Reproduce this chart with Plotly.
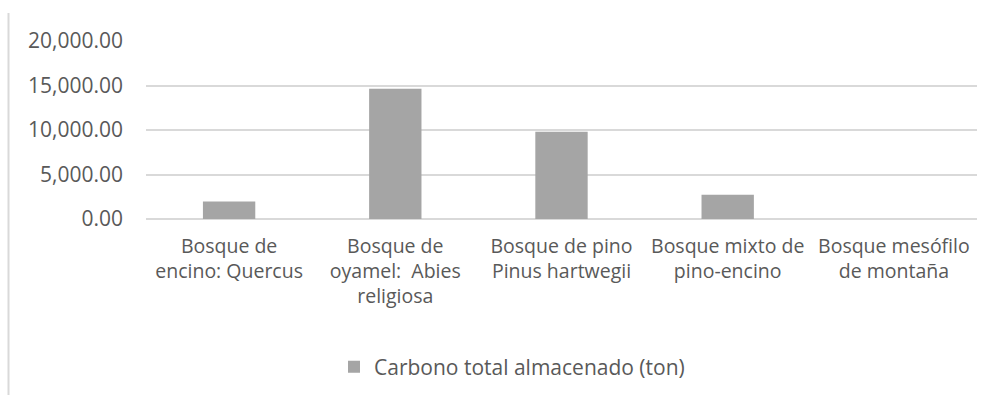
import plotly.graph_objects as go

# Forest types and total stored carbon (tonnes)
categories = [
    "Bosque de<br>encino: Quercus",
    "Bosque de<br>oyamel:  Abies<br>religiosa",
    "Bosque de pino<br>Pinus hartwegii",
    "Bosque mixto de<br>pino-encino",
    "Bosque mesófilo<br>de montaña",
]
carbon_ton = [1970, 14640, 9790, 2720, 0]
series_name = "Carbono total almacenado (ton)"
y_ticks = [0, 5000, 10000, 15000, 20000]

W, H = 992, 395
L, R, T, B = 146, 15, 41, 176
font_family = "'Open Sans', Lato, sans-serif"
text_color = "#595959"

fig = go.Figure(
    go.Bar(
        x=categories,
        y=carbon_ton,
        name=series_name,
        marker=dict(color="#a5a5a5", line=dict(width=0)),
        showlegend=True,
    )
)

plot_w = W - L - R
plot_h = H - T - B

fig.update_layout(
    width=W,
    height=H,
    margin=dict(l=L, r=R, t=T, b=B),
    paper_bgcolor="white",
    plot_bgcolor="white",
    bargap=0.685,
    font=dict(family=font_family, size=19.5, color=text_color),
    xaxis=dict(
        showgrid=False,
        showline=False,
        ticks="",
        ticklabelstandoff=13,
        tickfont=dict(size=19.5, color=text_color),
    ),
    yaxis=dict(
        range=[0, 20000],
        tickvals=y_ticks,
        tickformat=",.2f",
        showgrid=True,
        gridcolor="#d9d9d9",
        gridwidth=2,
        zeroline=True,
        zerolinecolor="#d9d9d9",
        zerolinewidth=2,
        showline=False,
        ticks="",
        ticklabelstandoff=22,
        tickfont=dict(size=21, color=text_color),
    ),
    showlegend=True,
    legend=dict(
        orientation="h",
        xref="container",
        yref="container",
        x=512 / W,
        xanchor="center",
        y=1 - 367 / H,
        yanchor="middle",
        font=dict(size=21, color=text_color),
        itemwidth=30,
    ),
    shapes=[
        dict(
            type="line",
            xref="paper",
            yref="paper",
            x0=(8.5 - L) / plot_w,
            x1=(8.5 - L) / plot_w,
            y0=(T + plot_h - 13) / plot_h,
            y1=-B / plot_h,
            line=dict(color="#d9d9d9", width=2),
        )
    ],
)

fig.write_html("out.html")
